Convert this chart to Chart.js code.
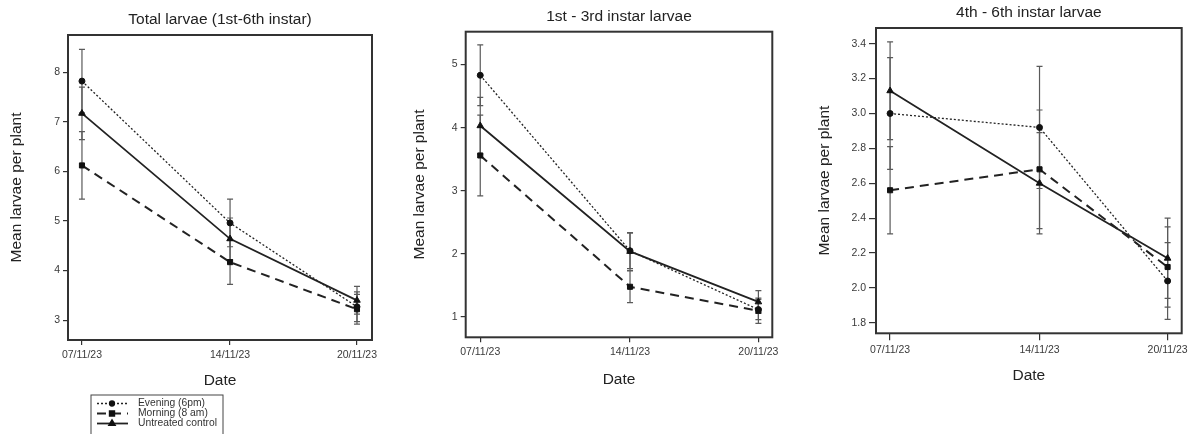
<!DOCTYPE html>
<html>
<head>
<meta charset="utf-8">
<title>Mean larvae per plant</title>
<script src="https://cdn.jsdelivr.net/npm/chart.js@4.4.1/dist/chart.umd.min.js"></script>
<style>
  body { margin: 0; background: #fff; }
  .panel { position: absolute; top: 0; }
</style>
</head>
<body>
<canvas id="totalChart" class="panel" style="left:0px" width="395" height="434"></canvas>
<canvas id="earlyChart" class="panel" style="left:395px" width="395" height="434"></canvas>
<canvas id="lateChart" class="panel" style="left:790px" width="405" height="434"></canvas>
<script>
// Sampling dates (day of November 2023 is used for the time axis)
const dates = ["07/11/23", "14/11/23", "20/11/23"];
const days = [7, 14, 20];
const seriesNames = ["Evening (6pm)", "Morning (8 am)", "Untreated control"];

// Total larvae (1st-6th instar): means and error bars
const totalEvening = [7.82, 4.96, 3.27];
const totalEveningErr = [0.64, 0.48, 0.30];
const totalMorning = [6.12, 4.17, 3.22];
const totalMorningErr = [0.68, 0.45, 0.30];
const totalControl = [7.17, 4.64, 3.40];
const totalControlErr = [0.53, 0.42, 0.28];
const totalTicks = [3, 4, 5, 6, 7, 8];

// 1st - 3rd instar
const earlyEvening = [4.83, 2.05, 1.12];
const earlyEveningErr = [0.48, 0.28, 0.16];
const earlyMorning = [3.56, 1.48, 1.10];
const earlyMorningErr = [0.64, 0.25, 0.20];
const earlyControl = [4.03, 2.04, 1.24];
const earlyControlErr = [0.45, 0.30, 0.18];
const earlyTicks = [1, 2, 3, 4, 5];

// 4th - 6th instar
const lateEvening = [3.00, 2.92, 2.04];
const lateEveningErr = [0.32, 0.35, 0.22];
const lateMorning = [2.56, 2.68, 2.12];
const lateMorningErr = [0.25, 0.34, 0.23];
const lateControl = [3.13, 2.60, 2.17];
const lateControlErr = [0.28, 0.29, 0.23];
const lateTicks = [1.8, 2.0, 2.2, 2.4, 2.6, 2.8, 3.0, 3.2, 3.4];

Chart.defaults.font.family = '"Liberation Sans", Arial, sans-serif';
Chart.defaults.color = "#333";

// line/marker look per treatment
const seriesStyles = [
  { pointStyle: "circle", radius: 3, dash: [2, 2], width: 1.3 },
  { pointStyle: "rect", radius: 3.6, dash: [9, 6], width: 2 },
  { pointStyle: "triangle", radius: 3.8, dash: [], width: 1.8 },
];

// vertical error bars with small caps, drawn under the lines
const errorBars = {
  id: "errorBars",
  beforeDatasetsDraw(chart) {
    const { ctx } = chart;
    const y = chart.scales.y;
    ctx.save();
    ctx.strokeStyle = "#5a5a5a";
    ctx.lineWidth = 1.2;
    chart.data.datasets.forEach((ds, i) => {
      chart.getDatasetMeta(i).data.forEach((pt, j) => {
        const v = ds.data[j].y;
        const e = ds.errors[j];
        const top = y.getPixelForValue(v + e);
        const bot = y.getPixelForValue(v - e);
        ctx.beginPath();
        ctx.moveTo(pt.x, top);
        ctx.lineTo(pt.x, bot);
        ctx.moveTo(pt.x - 3, top);
        ctx.lineTo(pt.x + 3, top);
        ctx.moveTo(pt.x - 3, bot);
        ctx.lineTo(pt.x + 3, bot);
        ctx.stroke();
      });
    });
    ctx.restore();
  },
};

// closed frame round the plot area
const frame = {
  id: "frame",
  afterDraw(chart) {
    const { ctx, chartArea: a } = chart;
    ctx.save();
    ctx.strokeStyle = "#333";
    ctx.lineWidth = 2;
    ctx.strokeRect(a.left, a.top, a.right - a.left, a.bottom - a.top);
    ctx.restore();
  },
};

// boxed key under the first panel: line sample + marker + name
const seriesLegend = {
  id: "seriesLegend",
  afterDraw(chart) {
    const { ctx, chartArea } = chart;
    const x0 = chartArea.left + 23;
    const y0 = chartArea.bottom + 55;
    ctx.save();
    ctx.strokeStyle = "#444";
    ctx.lineWidth = 1;
    ctx.strokeRect(x0, y0, 132, 50);
    chart.data.datasets.forEach((ds, i) => {
      const ly = y0 + 8.5 + i * 10;
      ctx.strokeStyle = ds.borderColor;
      ctx.lineWidth = ds.borderWidth;
      ctx.setLineDash(ds.borderDash);
      ctx.beginPath();
      ctx.moveTo(x0 + 6, ly);
      ctx.lineTo(x0 + 37, ly);
      ctx.stroke();
      ctx.setLineDash([]);
      ctx.fillStyle = "#111";
      ctx.strokeStyle = "#111";
      Chart.helpers.drawPoint(ctx, { pointStyle: ds.pointStyle, radius: ds.pointRadius - 0.5, borderWidth: 1 }, x0 + 21, ly);
      ctx.fillStyle = "#333";
      ctx.font = '10.3px "Liberation Sans", Arial, sans-serif';
      ctx.textBaseline = "middle";
      ctx.fillText(ds.label, x0 + 47, ly);
    });
    ctx.restore();
  },
};

function makeChart(id, cfg) {
  const canvas = document.getElementById(id);
  const datasets = cfg.series.map((s, i) => ({
    label: seriesNames[i],
    data: days.map((d, j) => ({ x: d, y: s.mean[j] })),
    errors: s.err,
    borderColor: "#222",
    borderWidth: seriesStyles[i].width,
    borderDash: seriesStyles[i].dash,
    pointStyle: seriesStyles[i].pointStyle,
    pointRadius: seriesStyles[i].radius,
    pointBackgroundColor: "#111",
    pointBorderColor: "#111",
    pointBorderWidth: 1,
    tension: 0,
    fill: false,
  }));
  const grid = { drawOnChartArea: false, tickLength: cfg.tickLen, color: "#333", lineWidth: 1.2 };
  return new Chart(canvas, {
    type: "line",
    data: { datasets },
    plugins: [errorBars, frame].concat(cfg.extra || []),
    options: {
      responsive: false,
      animation: false,
      events: [],
      layout: { padding: { left: 0, top: 0, bottom: 0, right: canvas.width - cfg.area.right } },
      plugins: {
        legend: { display: false },
        tooltip: { enabled: false },
        title: {
          display: true,
          text: cfg.title,
          fullSize: false,
          color: "#222",
          font: { size: 15.5, weight: "normal" },
          padding: cfg.titlePad,
        },
      },
      scales: {
        x: {
          type: "linear",
          min: cfg.xMin,
          max: cfg.xMax,
          afterBuildTicks: (s) => { s.ticks = days.map((d) => ({ value: d })); },
          afterFit: (s) => { s.height = canvas.height - cfg.area.bottom; },
          ticks: {
            color: "#3a3a3a",
            font: { size: 10.5 },
            padding: 4,
            maxRotation: 0,
            callback: (v) => dates[days.indexOf(v)],
          },
          grid,
          border: { display: false },
          title: {
            display: true,
            text: "Date",
            color: "#222",
            font: { size: 15.5 },
            padding: { top: 0, bottom: cfg.xTitlePad },
          },
        },
        y: {
          type: "linear",
          min: cfg.yMin,
          max: cfg.yMax,
          afterBuildTicks: (s) => { s.ticks = cfg.yTicks.map((v) => ({ value: v })); },
          afterFit: (s) => { s.width = cfg.area.left; },
          ticks: {
            color: "#3a3a3a",
            font: { size: 10.5 },
            padding: 3,
            callback: (v) => v.toFixed(cfg.decimals),
          },
          grid,
          border: { display: false },
          title: {
            display: true,
            text: "Mean larvae per plant",
            color: "#222",
            font: { size: 15.5 },
            padding: { top: cfg.yTitlePad, bottom: 0 },
          },
        },
      },
    },
  });
}

// Total larvae
makeChart("totalChart", {
  title: "Total larvae (1st-6th instar)",
  series: [
    { mean: totalEvening, err: totalEveningErr },
    { mean: totalMorning, err: totalMorningErr },
    { mean: totalControl, err: totalControlErr },
  ],
  yTicks: totalTicks, decimals: 0,
  yMin: 2.6, yMax: 8.75, xMin: 6.34, xMax: 20.71,
  area: { left: 68, right: 372, bottom: 340 },
  titlePad: { top: 10, bottom: 6.4 },
  yTitlePad: 7.4, xTitlePad: 44.4, tickLen: 5,
  extra: [seriesLegend],
});

// 1st - 3rd instar
makeChart("earlyChart", {
  title: "1st - 3rd instar larvae",
  series: [
    { mean: earlyEvening, err: earlyEveningErr },
    { mean: earlyMorning, err: earlyMorningErr },
    { mean: earlyControl, err: earlyControlErr },
  ],
  yTicks: earlyTicks, decimals: 0,
  yMin: 0.68, yMax: 5.52, xMin: 6.32, xMax: 20.65,
  area: { left: 70.7, right: 377.3, bottom: 337.3 },
  titlePad: { top: 7.2, bottom: 5.9 },
  yTitlePad: 15.7, xTitlePad: 44.7, tickLen: 5,
});

// 4th - 6th instar
makeChart("lateChart", {
  title: "4th - 6th instar larvae",
  series: [
    { mean: lateEvening, err: lateEveningErr },
    { mean: lateMorning, err: lateMorningErr },
    { mean: lateControl, err: lateControlErr },
  ],
  yTicks: lateTicks, decimals: 1,
  yMin: 1.74, yMax: 3.49, xMin: 6.34, xMax: 20.66,
  area: { left: 86, right: 391.7, bottom: 333.3 },
  titlePad: { top: 3.2, bottom: 6.2 },
  yTitlePad: 25.7, xTitlePad: 48.7, tickLen: 7,
});
</script>
</body>
</html>
